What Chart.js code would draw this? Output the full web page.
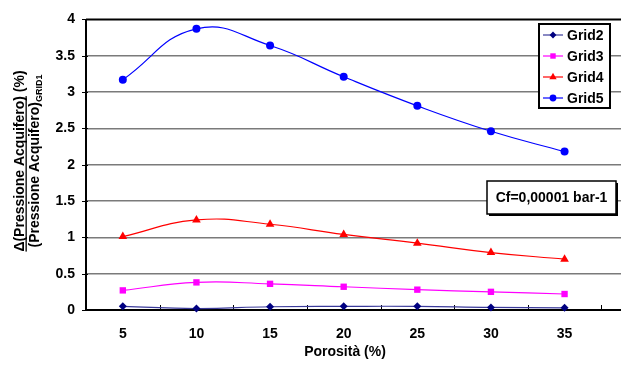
<!DOCTYPE html>
<html>
<head>
<meta charset="utf-8">
<script src="https://cdn.jsdelivr.net/npm/chart.js@4/dist/chart.umd.min.js"></script>
<style>
html,body{margin:0;padding:0;background:#fff;overflow:hidden;width:621px;height:367px;}
#wrap{width:680px;height:367px;}
</style>
</head>
<body>
<div id="wrap"><canvas id="c" width="680" height="367"></canvas></div>
<script>
const categories = ['5','10','15','20','25','30','35'];
const grid2 = [0.05, 0.02, 0.045, 0.05, 0.05, 0.035, 0.03];
const grid3 = [0.27, 0.38, 0.36, 0.32, 0.28, 0.25, 0.22];
const grid4 = [1.01, 1.24, 1.18, 1.04, 0.92, 0.79, 0.70];
const grid5 = [3.17, 3.87, 3.64, 3.21, 2.81, 2.46, 2.18];
const yTicks = [0, 0.5, 1, 1.5, 2, 2.5, 3, 3.5, 4];
const seriesNames = ['Grid2','Grid3','Grid4','Grid5'];
const annotationText = 'Cf=0,00001 bar-1';
const xTitle = 'Porosità (%)';
const yTitle1a = 'Δ(Pressione Acquifero)';
const yTitle1b = ' (%)';
const yTitle2a = '(Pressione Acquifero)';
const yTitle2b = 'GRID1';

const FONT = '"Liberation Sans", Arial, sans-serif';

const styles = [
  {color:'#000080', line:'#3a3a9a', point:'rectRot', r:4},
  {color:'#FF00FF', line:'#FF00FF', point:'rect', r:4.5},
  {color:'#FF0000', line:'#FF0000', point:'triangle', r:5},
  {color:'#0000FF', line:'#0000FF', point:'circle', r:4}
];
const values = [grid2, grid3, grid4, grid5];

const datasets = values.map((v,i)=>({
  label: seriesNames[i],
  data: v,
  borderColor: styles[i].line,
  backgroundColor: styles[i].color,
  pointBackgroundColor: styles[i].color,
  pointBorderColor: styles[i].color,
  pointStyle: styles[i].point,
  pointRadius: styles[i].r,
  pointBorderWidth: 0,
  borderWidth: 1.2,
  tension: 0.45,
  fill: false,
  clip: false
}));

const deco = {
  id: 'deco',
  beforeDatasetsDraw(chart){
    const ctx = chart.ctx, a = chart.chartArea;
    const ys = chart.scales.y;
    ctx.save();
    ctx.strokeStyle = '#000';
    ctx.lineWidth = 2;
    ctx.beginPath();
    ctx.moveTo(a.left, a.top); ctx.lineTo(a.right, a.top);
    ctx.moveTo(a.left, a.top); ctx.lineTo(a.left, a.bottom);
    ctx.moveTo(a.left-1, a.bottom); ctx.lineTo(a.right, a.bottom);
    ctx.stroke();
    ctx.lineWidth = 1;
    const step = (a.right - a.left) / chart.data.labels.length;
    for (let i = 1; i <= categories.length; i++) {
      const x = Math.round(a.left + i*step) + 0.5;
      ctx.beginPath(); ctx.moveTo(x, a.bottom - 5); ctx.lineTo(x, a.bottom); ctx.stroke();
    }
    yTicks.forEach(t => {
      const y = Math.round(ys.getPixelForValue(t)) + 0.5;
      ctx.beginPath(); ctx.moveTo(a.left - 4, y); ctx.lineTo(a.left + 2, y); ctx.stroke();
    });
    ctx.restore();
  },
  afterDraw(chart){
    const ctx = chart.ctx;
    ctx.save();
    ctx.font = 'bold 14px ' + FONT;
    ctx.fillStyle = '#000';
    ctx.textAlign = 'center';
    ctx.textBaseline = 'alphabetic';
    ctx.fillText(xTitle, 345, 356);

    const cy = 161;
    ctx.save();
    ctx.translate(24, cy);
    ctx.rotate(-Math.PI/2);
    ctx.font = 'bold 14px ' + FONT;
    ctx.textAlign = 'left';
    const w1a = ctx.measureText(yTitle1a).width;
    const w1b = ctx.measureText(yTitle1b).width;
    let x0 = -(w1a + w1b)/2;
    ctx.fillText(yTitle1a, x0, 0);
    ctx.fillText(yTitle1b, x0 + w1a, 0);
    ctx.fillRect(x0, 1.5, w1a, 1.3);
    ctx.restore();

    ctx.save();
    ctx.translate(39, cy);
    ctx.rotate(-Math.PI/2);
    ctx.font = 'bold 14px ' + FONT;
    const w2a = ctx.measureText(yTitle2a).width;
    ctx.font = 'bold 9px ' + FONT;
    const w2b = ctx.measureText(yTitle2b).width;
    x0 = -(w2a + w2b)/2;
    ctx.font = 'bold 14px ' + FONT;
    ctx.textAlign = 'left';
    ctx.fillText(yTitle2a, x0, 0);
    ctx.font = 'bold 9px ' + FONT;
    ctx.fillText(yTitle2b, x0 + w2a, 3);
    ctx.restore();

    const lx = 539, ly = 24, lw = 71, lh = 84;
    ctx.fillStyle = '#fff';
    ctx.fillRect(lx, ly, lw, lh);
    ctx.strokeStyle = '#000';
    ctx.lineWidth = 2;
    ctx.strokeRect(lx, ly, lw, lh);
    ctx.font = 'bold 14px ' + FONT;
    ctx.textAlign = 'left';
    ctx.textBaseline = 'middle';
    chart.data.datasets.forEach((ds, i) => {
      const y = ly + 11 + i*21;
      ctx.strokeStyle = ds.borderColor;
      ctx.lineWidth = 1.2;
      ctx.beginPath(); ctx.moveTo(lx + 4, y); ctx.lineTo(lx + 24, y); ctx.stroke();
      ctx.fillStyle = ds.pointBackgroundColor;
      ctx.strokeStyle = ds.pointBorderColor;
      Chart.helpers.drawPoint(ctx, {pointStyle: ds.pointStyle, radius: ds.pointRadius * 0.85, borderWidth: 0, rotation: 0}, lx + 14, y);
      ctx.fillStyle = '#000';
      ctx.fillText(ds.label, lx + 28, y + 1);
    });

    const bx = 487, by = 181, bw = 129, bh = 33;
    ctx.fillStyle = '#000';
    ctx.fillRect(bx + 2, by + 2, bw, bh);
    ctx.fillStyle = '#fff';
    ctx.fillRect(bx, by, bw, bh);
    ctx.strokeStyle = '#000';
    ctx.lineWidth = 1.5;
    ctx.strokeRect(bx, by, bw, bh);
    ctx.fillStyle = '#000';
    ctx.font = 'bold 14px ' + FONT;
    ctx.textAlign = 'center';
    ctx.textBaseline = 'middle';
    ctx.fillText(annotationText, bx + bw/2, by + bh/2 + 1);
    ctx.restore();
  }
};

new Chart(document.getElementById('c'), {
  type: 'line',
  data: { labels: [...categories, ''], datasets },
  options: {
    responsive: false,
    animation: false,
    devicePixelRatio: 1,
    layout: { padding: { top: 13, right: 2, left: 0, bottom: 0 } },
    plugins: { legend: { display: false }, tooltip: { enabled: false } },
    scales: {
      x: {
        type: 'category',
        offset: true,
        grid: { display: false },
        border: { display: false },
        ticks: { color: '#000', font: { family: FONT, size: 14, weight: 'bold' }, padding: 8, maxRotation: 0, autoSkip: false },
        afterFit(s){ s.height = 57; }
      },
      y: {
        min: 0, max: 4,
        afterBuildTicks(s){ s.ticks = yTicks.map(v => ({value: v})); },
        grid: {
          color: ctx => (ctx.tick && (ctx.tick.value === 0 || ctx.tick.value === 4)) ? 'rgba(0,0,0,0)' : '#7a7a7a',
          lineWidth: 1.5,
          drawTicks: false
        },
        border: { display: false },
        ticks: { color: '#000', font: { family: FONT, size: 14, weight: 'bold' }, padding: 11, callback: v => String(v) },
        afterFit(s){ s.width = 86; }
      }
    }
  },
  plugins: [deco]
});
</script>
</body>
</html>
